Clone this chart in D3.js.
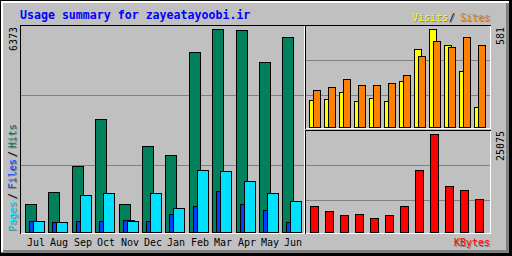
<!DOCTYPE html>
<html><head><meta charset="utf-8">
<script src="https://cdn.jsdelivr.net/npm/d3@7"></script>
<style>html,body{margin:0;padding:0;background:#c0c0c0;overflow:hidden}svg{display:block}</style>
</head><body><svg id="c" width="512" height="256"></svg>
<script>
const title = "Usage summary for zayeatayoobi.ir";
const months = ["Jul","Aug","Sep","Oct","Nov","Dec","Jan","Feb","Mar","Apr","May","Jun"];
const hits   = [879,1256,2072,3548,879,2700,2417,5651,6373,6342,5337,6122];
const files  = [345,314,345,345,377,345,565,816,1287,879,691,314];
const pages  = [345,314,1162,1224,345,1224,753,1946,1915,1601,1224,973];
const visits = [160,166,208,154,172,154,273,462,581,486,332,119];
const sites  = [219,237,285,249,249,261,308,421,510,474,534,486];
const kbytes = [6652,5373,4350,4606,3582,4350,6652,15863,25075,11770,10746,8443];
const maxHits = 6373, maxVisits = 581, maxKBytes = 25075;
const axisMax = ["6373","581","25075"];

const C = {bg:"#c0c0c0", dk:"#808080", white:"#ffffff", black:"#000000",
  hit:"#00805c", file:"#0040ff", page:"#00e0ff", visit:"#ffff00",
  site:"#ff8000", kbyte:"#ff0000", title:"#0000ff"};
const MONO = "'DejaVu Sans Mono', 'Liberation Mono', monospace";

const svg = d3.select("#c");
function px(x,y,w,h,c){ svg.append("rect").attr("x",x).attr("y",y).attr("width",w).attr("height",h).attr("fill",c); }

// background + outer 3D frame
px(0,0,512,256,C.bg);
px(1,250,510,3,C.dk); px(506,1,3,252,C.dk);
px(1,1,508,2,C.white); px(1,1,2,251,C.white);
px(0,0,512,1,C.black); px(0,0,1,256,C.black);
px(0,253,512,3,C.black); px(509,0,3,256,C.black);

function panel(x1,y1,x2,y2){
  px(x1,y2,x2-x1+1,1,C.white); px(x2,y1,1,y2-y1+1,C.white);
  px(x1,y1,x2-x1+1,1,C.black); px(x1,y1,1,y2-y1+1,C.black);
}
panel(20,25,304,233);
panel(305,25,490,128);
panel(305,130,490,233);

// grid lines
[95,165].forEach(y=>px(21,y,283,1,C.dk));
[60,95].forEach(y=>px(306,y,184,1,C.dk));
[165,200].forEach(y=>px(306,y,184,1,C.dk));

// scales
const xL = d3.scaleBand().domain(months).range([25, 25+12*23.4]);
const xR = d3.scaleBand().domain(months).range([309, 309+12*15]);
const yL = d3.scaleLinear().domain([0,maxHits]).range([232,29]);
const yV = d3.scaleLinear().domain([0,maxVisits]).range([127,29]);
const yK = d3.scaleLinear().domain([0,maxKBytes]).range([232,134]);

function bars(data, xs, off, w, ys, color){
  const base = Math.round(ys(0));
  svg.append("g").selectAll("rect").data(data).join("rect")
    .attr("x",(d,i)=>Math.round(xs(months[i]))+off+0.5)
    .attr("y",d=>Math.round(ys(d))+0.5)
    .attr("width",w-1)
    .attr("height",d=>base-Math.round(ys(d)))
    .attr("fill",color).attr("stroke",C.black).attr("stroke-width",1);
}
bars(hits, xL, 0, 12, yL, C.hit);
bars(files, xL, 4, 12, yL, C.file);
bars(pages, xL, 8, 12, yL, C.page);
bars(visits, xR, 0, 8, yV, C.visit);
bars(sites, xR, 4, 8, yV, C.site);
bars(kbytes, xR, 1, 9, yK, C.kbyte);

// text helpers
function txt(s,x,y,color,opt={}){
  const t = svg.append("text").text(s).attr("x",x).attr("y",y)
    .attr("fill",color).attr("font-family",MONO)
    .attr("font-size",opt.size||10).attr("font-weight",opt.bold?"bold":"normal");
  if(opt.rot) t.attr("transform",`rotate(-90,${x},${y})`);
  return t;
}
function stxt(s,x,y,color,opt={}){ txt(s,x+1,y+1,C.dk,opt); txt(s,x,y,color,opt); }

txt(title,20,19,C.title,{size:11.6,bold:true});

svg.append("g").selectAll("text").data(months).join("text")
  .text(d=>d).attr("x",d=>Math.round(xL(d))+2).attr("y",246)
  .attr("fill",C.black).attr("font-family",MONO).attr("font-size",10);

stxt("Visits",412,21,C.visit);
stxt("/",449,21,C.black);
stxt("Sites",460,21,C.site);
stxt("KBytes",454,246,C.kbyte);

stxt("Pages",16,231,C.page,{rot:true});
stxt("/",16,199,C.black,{rot:true});
stxt("Files",16,189,C.file,{rot:true});
stxt("/",16,157,C.black,{rot:true});
stxt("Hits",16,148,C.hit,{rot:true});

txt(axisMax[0],17,51,C.black,{rot:true});
txt(axisMax[1],504,45,C.black,{rot:true});
txt(axisMax[2],504,161,C.black,{rot:true});
</script></body></html>
